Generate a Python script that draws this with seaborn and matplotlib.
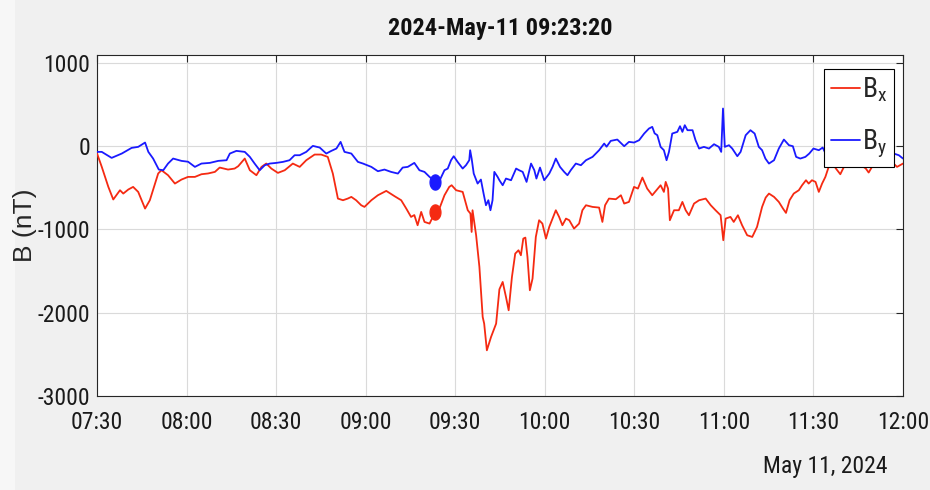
import numpy as np
import pandas as pd
import matplotlib
matplotlib.use("Agg")
import matplotlib.pyplot as plt
import matplotlib.dates as mdates
from matplotlib import font_manager as fm
from matplotlib.path import Path
from matplotlib.patches import Rectangle
import seaborn as sns

# Magnetometer field components, 2024-05-11, minutes after 07:30 UT and nT
bx_minutes = [
    0, 1.6, 3.8, 5.45, 7.7, 8.8, 10.5, 12.1, 13.8, 16.1,
    17.7, 20.5, 21.6, 23.8, 26.1, 28.3, 30.5, 32.8, 35.0, 37.2,
    39.5, 41.1, 43.9, 46.1, 47.3, 49.5, 51.2, 53.4, 55.1, 56.7,
    58.4, 60.6, 62.9, 65.6, 67.9, 70.1, 72.9, 75.1, 77.3, 79.0,
    80.7, 82.4, 84.0, 85.2, 86.8, 88.5, 89.6, 91.9, 94.1, 96.9,
    99.7, 101.9, 103.6, 105.2, 106.3, 107.4, 108.6, 109.7, 111.4, 113.33,
    114.7, 116.4, 118.0, 118.8, 120.3, 122.5, 124.2, 125.1, 125.5, 125.8,
    127.0, 128.1, 129.2, 129.7, 130.6, 132.0, 133.7, 134.8, 135.9, 137.0,
    137.9, 139.0, 140.1, 141.2, 142.0, 142.8, 143.5, 144.2, 145.0, 145.9,
    147.0, 148.1, 149.2, 150.4, 151.5, 152.6, 153.7, 154.8, 155.9, 157.1,
    158.2, 159.8, 161.5, 162.6, 163.8, 166.0, 168.2, 169.3, 170.2, 171.5,
    173.8, 175.5, 176.6, 178.2, 179.9, 181.2, 182.7, 184.3, 186.0, 187.7,
    188.8, 189.9, 190.5, 191.3, 191.9, 193.3, 194.9, 196.1, 197.2, 198.3,
    200.0, 201.7, 203.9, 205.6, 207.2, 208.9, 209.8, 210.6, 212.2, 213.3,
    214.7, 216.1, 217.8, 219.5, 221.1, 222.8, 224.0, 225.1, 226.8, 228.4,
    229.8, 230.8, 232.0, 233.4, 235.1, 236.2, 237.5, 238.4, 239.5, 240.7,
    241.8, 242.9, 244.0, 245.1, 246.7, 247.7, 249.0, 250.1, 251.8, 253.8,
    255.8, 257.5, 258.5, 259.8, 261.8, 263.8, 265.9, 268.0, 270.0,
]
bx_values = [
    -90, -252, -492, -643, -532, -572, -523, -492, -552, -752,
    -652, -331, -292, -352, -452, -404, -372, -372, -340, -331,
    -312, -260, -284, -272, -244, -152, -292, -352, -252, -212,
    -272, -324, -292, -212, -252, -172, -104, -104, -132, -332,
    -632, -652, -632, -612, -652, -712, -732, -652, -592, -540,
    -604, -652, -752, -852, -830, -952, -792, -912, -932, -790,
    -752, -592, -492, -472, -532, -552, -772, -812, -1032, -772,
    -1072, -1452, -2052, -2132, -2452, -2292, -2132, -1720, -1632, -1812,
    -1972, -1572, -1292, -1252, -1312, -1112, -1100, -1332, -1732, -1592,
    -1092, -892, -932, -1112, -972, -872, -772, -852, -952, -872,
    -892, -992, -932, -772, -712, -732, -740, -912, -712, -632,
    -640, -592, -692, -672, -492, -512, -380, -512, -592, -520,
    -472, -552, -432, -512, -892, -772, -772, -672, -772, -832,
    -692, -652, -632, -712, -772, -832, -1132, -872, -852, -912,
    -832, -952, -1072, -1092, -972, -732, -620, -572, -612, -672,
    -752, -804, -652, -572, -532, -472, -412, -452, -412, -432,
    -552, -452, -372, -252, -230, -280, -340, -260, -220, -250,
    -230, -270, -320, -240, -220, -200, -180, -252, -212,
]

by_minutes = [
    0, 1.6, 4.9, 8.3, 11.6, 13.8, 16.1, 17.2, 18.8, 20.7,
    22.2, 23.8, 25.5, 28.3, 30.5, 32.8, 35.0, 37.8, 40.6, 43.4,
    44.5, 46.7, 49.5, 51.2, 52.8, 54.5, 56.2, 57.9, 60.1, 62.3,
    64.5, 66.2, 67.9, 70.1, 72.3, 74.6, 76.8, 78.5, 80.2, 81.6,
    82.9, 85.2, 87.4, 89.1, 91.9, 94.1, 96.3, 98.5, 100.8, 102.4,
    104.1, 106.3, 108.0, 109.7, 111.4, 113.33, 114.7, 116.4, 117.5, 118.6,
    119.5, 120.8, 122.5, 123.6, 124.7, 125.0, 125.5, 126.2, 127.5, 128.6,
    129.5, 130.3, 131.1, 131.8, 132.5, 133.1, 134.2, 134.8, 135.9, 137.0,
    138.7, 140.4, 141.4, 142.6, 143.9, 145.4, 146.5, 147.2, 148.4, 149.8,
    151.5, 152.6, 153.7, 155.1, 156.5, 157.6, 158.7, 160.4, 162.1, 163.8,
    166.0, 168.2, 169.9, 170.7, 172.1, 174.3, 176.6, 178.2, 179.9, 181.6,
    183.3, 184.9, 186.0, 186.8, 187.7, 188.8, 189.9, 190.8, 191.6, 192.7,
    194.4, 195.3, 196.1, 196.9, 197.8, 199.5, 200.5, 201.7, 203.3, 205.0,
    206.7, 208.3, 209.1, 209.7, 210.3, 211.7, 212.8, 214.5, 215.6, 217.3,
    218.9, 220.3, 221.7, 222.8, 223.9, 225.1, 226.8, 228.4, 230.1, 231.8,
    233.1, 234.2, 235.6, 237.3, 238.6, 240.0, 241.8, 243.1, 243.8, 244.6,
    245.4, 246.7, 248.4, 250.4, 252.4, 254.4, 256.4, 258.5, 260.5, 262.5,
    264.5, 266.2, 266.9, 268.6, 270.0,
]
by_values = [
    -72, -72, -144, -92, -24, -12, 40, -72, -152, -284,
    -292, -212, -152, -180, -190, -252, -212, -204, -180, -172,
    -92, -60, -72, -132, -212, -292, -232, -212, -204, -192,
    -172, -112, -112, -72, 0, -20, -92, -60, -32, 48,
    -72, -92, -192, -212, -252, -304, -284, -312, -332, -260,
    -252, -204, -292, -312, -372, -430, -420, -292, -272, -172,
    -124, -192, -272, -232, -172, -52, -152, -332, -452, -404,
    -572, -712, -652, -772, -652, -312, -372, -412, -472, -392,
    -412, -272, -292, -312, -432, -212, -292, -392, -260, -412,
    -332, -252, -152, -252, -312, -352, -292, -212, -232, -172,
    -132, -52, 28, -10, 60, 76, -4, 48, 40, 68,
    148, 208, 228, 150, 128, -12, -52, -172, -72, 148,
    168, 236, 168, 248, 188, 188, 68, -32, -12, -32,
    20, -12, -72, 448, -12, 8, -32, -124, -72, 128,
    188, 148, -12, -52, -152, -212, -172, -32, 76, 8,
    -4, -132, -152, -132, -92, -32, -52, -20, -72, 88,
    228, 120, 60, 0, 40, -20, 30, -40, 10, -30,
    -60, -70, -92, -112, -152,
]

# Marked instant 09:23:20 and the field values there
mark_minute = 113.33
mark_bx = -790
mark_by = -430

y_ticks = [-3000, -2000, -1000, 0, 1000]
title_text = "2024-May-11 09:23:20"
date_text = "May 11, 2024"

RED = "#f52a12"
BLUE = "#1a1aff"

sns.set_style("white")

# Prefer a narrow face for the axis texts when one is installed
installed = {f.name for f in fm.fontManager.ttflist}
narrow = next((n for n in ["Liberation Sans Narrow", "Roboto Condensed",
                           "DejaVu Sans Condensed", "Open Sans Condensed",
                           "Noto Sans Condensed", "Arial Narrow"]
               if n in installed), None)
condensed_dejavu = any(f.name == "DejaVu Sans" and "condensed" in str(f.stretch)
                       for f in fm.fontManager.ttflist)
if narrow is not None:
    base = [narrow, "DejaVu Sans"]
    stretch = "normal"
    scale = 1.0
elif condensed_dejavu:
    base = ["DejaVu Sans"]
    stretch = "condensed"
    scale = 0.9
else:
    base = ["Liberation Sans", "DejaVu Sans"]
    stretch = "normal"
    scale = 0.87

plt.rcParams["font.family"] = base
plt.rcParams["font.stretch"] = stretch
plt.rcParams["axes.unicode_minus"] = False
plt.rcParams["mathtext.fontset"] = "custom"
plt.rcParams["mathtext.rm"] = base[0]
plt.rcParams["mathtext.it"] = base[0]

start = pd.Timestamp("2024-05-11 07:30:00")
t_bx = start + pd.to_timedelta(bx_minutes, unit="min")
t_by = start + pd.to_timedelta(by_minutes, unit="min")
t_mark = start + pd.to_timedelta(mark_minute, unit="min")

fig = plt.figure(figsize=(9.3, 4.9), dpi=100, facecolor="#f0f0f0")
fig.patches.append(Rectangle((0, 0), 15 / 930, 1, transform=fig.transFigure,
                             facecolor="#f7f7f7", edgecolor="none", zorder=-5))
ax = fig.add_axes([97 / 930, 1 - 396 / 490, 806 / 930, 341 / 490])
ax.set_facecolor("white")

sns.lineplot(x=t_bx, y=bx_values, ax=ax, color=RED, linewidth=1.3,
             label=r"$\mathrm{B}_{\mathrm{x}}$", zorder=3)
sns.lineplot(x=t_by, y=by_values, ax=ax, color=BLUE, linewidth=1.3,
             label=r"$\mathrm{B}_{\mathrm{y}}$", zorder=3)

# squeezed circle marker for the marked instant
theta = np.linspace(0, 2 * np.pi, 64)
dot = Path(np.column_stack([0.72 * np.cos(theta), np.sin(theta)]), closed=True)
sns.scatterplot(x=[t_mark], y=[mark_bx], ax=ax, marker=dot, s=120,
                color=RED, edgecolor=RED, legend=False, zorder=4)
sns.scatterplot(x=[t_mark], y=[mark_by], ax=ax, marker=dot, s=120,
                color=BLUE, edgecolor=BLUE, legend=False, zorder=4)

ax.set_xlim(start, start + pd.Timedelta(minutes=270))
ax.set_ylim(-3000, 1090)
ax.set_yticks(y_ticks)
ax.xaxis.set_major_locator(mdates.MinuteLocator(byminute=[0, 30]))
ax.xaxis.set_major_formatter(mdates.DateFormatter("%H:%M"))
ax.set_xlabel("")
ax.set_ylabel("")

ax.grid(True, color="#dadada", linewidth=0.8)
ax.set_axisbelow(True)
for side in ["left", "right", "top", "bottom"]:
    ax.spines[side].set_visible(True)
    ax.spines[side].set_color("#262626")
    ax.spines[side].set_linewidth(0.8)
ax.tick_params(direction="in", length=5, width=0.8, top=True, right=True,
               colors="#262626", labelsize=17 * scale, labelcolor="#1a1a1a")
ax.tick_params(axis="x", pad=11)
ax.tick_params(axis="y", pad=5)

leg = ax.legend(loc="upper right", bbox_to_anchor=(0.989, 0.959),
                borderaxespad=0, frameon=True, fancybox=False,
                edgecolor="black", framealpha=1, fontsize=20 * scale,
                handlelength=1.05, handletextpad=0.05, labelspacing=0.85,
                borderpad=0.25)
leg.get_frame().set_linewidth(0.8)

fig.text(500 / 930, 1 - 28 / 490, title_text, ha="center", va="center",
         fontsize=17.5 * scale, fontweight="bold", color="#111111")
fig.text(25 / 930, 1 - 225 / 490, "B (nT)", rotation=90, ha="center",
         va="center", fontsize=19, color="#262626", fontstretch="normal",
         family=["Liberation Sans", "DejaVu Sans"])
fig.text(887 / 930, 1 - 466 / 490, date_text, ha="right", va="center",
         fontsize=17 * scale, color="#1a1a1a")

fig.savefig("out.png", dpi=100, facecolor=fig.get_facecolor())
